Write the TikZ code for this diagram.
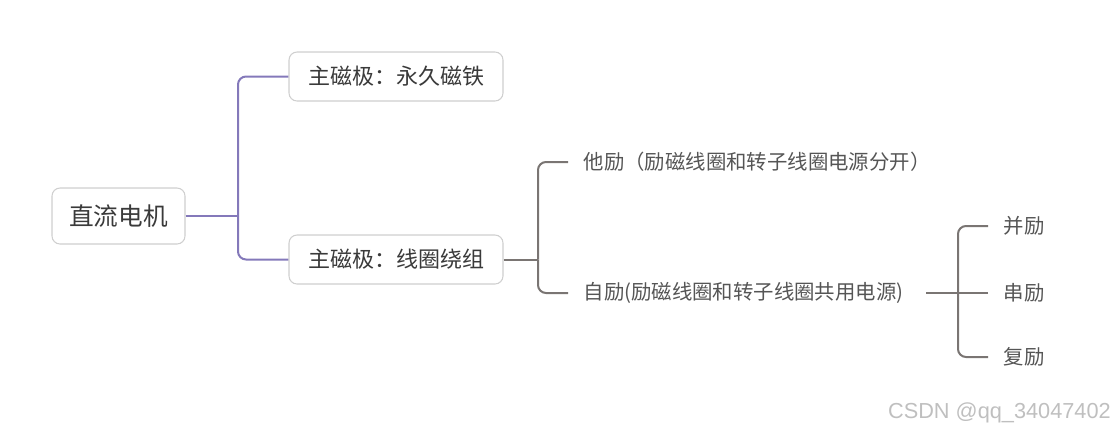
\documentclass[tikz,border=0pt]{standalone}
\usepackage{fontspec}
\setmainfont{Noto Sans CJK SC}
\newfontfamily\markfont{Liberation Sans}
\usetikzlibrary{positioning}

\definecolor{violetline}{HTML}{8479BA}
\definecolor{greyline}{HTML}{7A7573}
\definecolor{boxedge}{HTML}{CFCFCF}
\definecolor{boxtext}{HTML}{3A3A3A}
\definecolor{leaftext}{HTML}{555555}

\begin{document}
\begin{tikzpicture}[
  x=0.75pt,y=-0.75pt,
  topic/.style={draw=boxedge,line width=0.8pt,rounded corners=6pt,fill=white,
    text=boxtext,minimum height=36.75pt,inner sep=0pt},
  roottopic/.style={topic,minimum width=99.75pt,minimum height=42pt,
    font=\fontsize{18.5pt}{20pt}\selectfont},
  subtopic/.style={topic,minimum width=160.5pt,font=\fontsize{16.5pt}{18pt}\selectfont},
  leaf/.style={anchor=west,inner xsep=11.5pt,inner ysep=2pt,text=leaftext,
    font=\fontsize{15.3pt}{17pt}\selectfont},
  mainbranch/.style={violetline,line width=1.5pt,rounded corners=6pt},
  subbranch/.style={greyline,line width=1.5pt,rounded corners=6pt}
]
  \useasboundingbox (0,0) rectangle (1114,433);

  % topics
  \node[roottopic] (motor) at (118.5,216) {直流电机};
  \node[subtopic] (magnet) at (396,76.5) {主磁极：永久磁铁};
  \node[subtopic] (winding) at (396,259.5) {主磁极：线圈绕组};

  % excitation types
  \node[leaf] (separate) at (568,162) {他励（励磁线圈和转子线圈电源分开）};
  \node[leaf] (selfexc) at (568,293) {自励(励磁线圈和转子线圈共用电源)};
  \node[leaf] (shunt) at (988,226) {并励};
  \node[leaf] (series) at (988,293) {串励};
  \node[leaf] (compound) at (988,357) {复励};

  % connectors
  \coordinate (j1) at (238,216);
  \draw[mainbranch] (motor.east) -- (j1);
  \draw[mainbranch] (magnet.west) -| (j1);
  \draw[mainbranch] (winding.west) -| (j1);

  \coordinate (j2) at (538,259.5);
  \draw[subbranch] (winding.east) -- (j2);
  \draw[subbranch] (separate.west) -| (j2);
  \draw[subbranch] (selfexc.west) -| (j2);

  \coordinate (j3) at (958,293);
  \coordinate (s3) at (926,293);
  \draw[subbranch] (s3) -- (j3);
  \draw[subbranch] (shunt.west) -| (j3);
  \draw[subbranch] (series.west) -- (j3);
  \draw[subbranch] (compound.west) -| (j3);

  \node[anchor=east,inner sep=0pt,text=black!25,font=\markfont\fontsize{16.3pt}{18pt}\selectfont]
    (mark) at (1111,413) {CSDN @qq\_34047402};
\end{tikzpicture}
\end{document}
